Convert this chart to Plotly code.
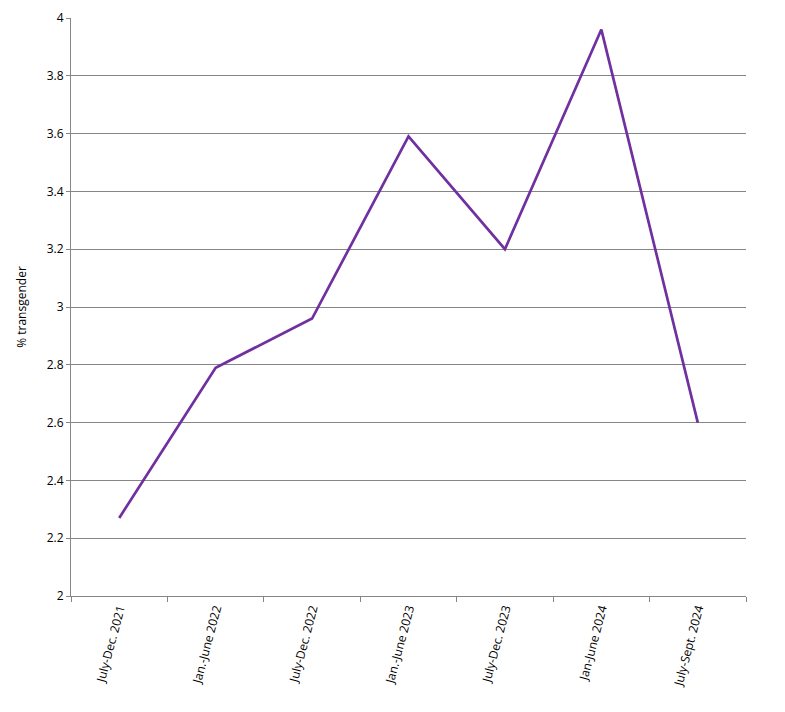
import plotly.graph_objects as go

periods = ["July-Dec. 2021", "Jan.-June 2022", "July-Dec. 2022", "Jan.-June 2023",
           "July-Dec. 2023", "Jan-June 2024", "July-Sept. 2024"]
pct_transgender = [2.27, 2.79, 2.96, 3.59, 3.20, 3.96, 2.60]
y_ticks = [2, 2.2, 2.4, 2.6, 2.8, 3, 3.2, 3.4, 3.6, 3.8, 4]
y_tick_labels = ["2", "2.2", "2.4", "2.6", "2.8", "3", "3.2", "3.4", "3.6", "3.8", "4"]

fig = go.Figure()
fig.add_trace(go.Scatter(
    x=periods, y=pct_transgender, mode="lines",
    line=dict(color="#7030A0", width=2.7),
    showlegend=False, hoverinfo="x+y",
))

font = dict(family="Open Sans, Liberation Sans, sans-serif", size=12, color="#000000")
fig.update_layout(
    width=785, height=712,
    margin=dict(l=71, r=39, t=18, b=116),
    paper_bgcolor="white", plot_bgcolor="white",
    font=font,
    xaxis=dict(
        type="category", tickson="boundaries", ticks="outside", ticklen=5,
        tickcolor="#868686", showline=True, linecolor="#868686", linewidth=1,
        showgrid=False, tickangle=-75, tickfont=dict(size=12),
        range=[-0.5, 6.5], zeroline=False, automargin=False,
    ),
    yaxis=dict(
        range=[2, 4], tickvals=y_ticks, ticktext=y_tick_labels,
        ticks="outside", ticklen=4, tickcolor="#868686",
        showline=True, linecolor="#868686", linewidth=1,
        showgrid=True, gridcolor="#868686", gridwidth=1, zeroline=False,
        title=dict(text="% transgender", font=dict(size=12), standoff=17),
        tickfont=dict(size=12), automargin=False,
    ),
)
fig.write_html("out.html", config={"displayModeBar": False},
               post_script="document.body.style.margin='0';")
